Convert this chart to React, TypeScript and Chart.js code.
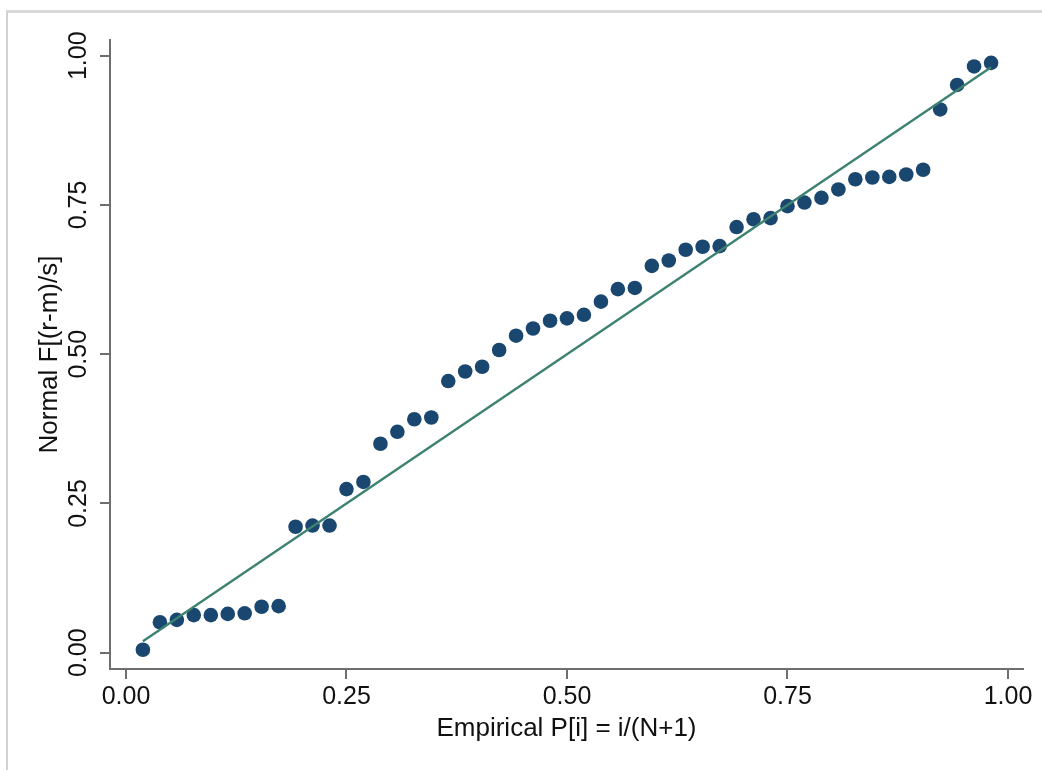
import React, { useEffect, useRef } from "react";
import { Chart, registerables } from "chart.js";

Chart.register(...registerables);

// Empirical P[i] = i/(N+1), N = 51
const empiricalP = [
  0.0192, 0.0385, 0.0577, 0.0769, 0.0962, 0.1154, 0.1346, 0.1538, 0.1731, 0.1923,
  0.2115, 0.2308, 0.25, 0.2692, 0.2885, 0.3077, 0.3269, 0.3462, 0.3654, 0.3846,
  0.4038, 0.4231, 0.4423, 0.4615, 0.4808, 0.5, 0.5192, 0.5385, 0.5577, 0.5769,
  0.5962, 0.6154, 0.6346, 0.6538, 0.6731, 0.6923, 0.7115, 0.7308, 0.75, 0.7692,
  0.7885, 0.8077, 0.8269, 0.8462, 0.8654, 0.8846, 0.9038, 0.9231, 0.9423, 0.9615,
  0.9808,
];

// Normal F[(r-m)/s]
const normalF = [
  0.005, 0.051, 0.055, 0.063, 0.063, 0.065, 0.066, 0.077, 0.078, 0.211,
  0.213, 0.213, 0.274, 0.286, 0.35, 0.37, 0.391, 0.394, 0.455, 0.471,
  0.479, 0.507, 0.531, 0.543, 0.556, 0.56, 0.566, 0.588, 0.609, 0.611,
  0.648, 0.657, 0.675, 0.68, 0.681, 0.713, 0.726, 0.728, 0.748, 0.754,
  0.762, 0.776, 0.793, 0.796, 0.797, 0.801, 0.809, 0.91, 0.951, 0.982,
  0.988,
];

// reference line (45-degree)
const refLineX = [0.0192, 0.9808];
const refLineY = [0.0192, 0.9808];

const tickValues = [0, 0.25, 0.5, 0.75, 1];

const xTitle = "Empirical P[i] = i/(N+1)";
const yTitle = "Normal F[(r-m)/s]";

const FONT = "'Liberation Sans', Arial, Helvetica, sans-serif";
const AXIS_GRAY = "#6e6e6e";

export default function App() {
  const canvasRef = useRef<HTMLCanvasElement | null>(null);

  useEffect(() => {
    const canvas = canvasRef.current;
    if (!canvas) return;

    const points = empiricalP.map((x, i) => ({ x, y: normalF[i] }));
    const linePts = refLineX.map((x, i) => ({ x, y: refLineY[i] }));

    const chart = new Chart(canvas, {
      type: "scatter",
      data: {
        datasets: [
          {
            type: "line",
            data: linePts,
            borderColor: "#3d8270",
            borderWidth: 2.4,
            pointRadius: 0,
            showLine: true,
            fill: false,
            order: 0,
          } as any,
          {
            type: "scatter",
            data: points,
            backgroundColor: "#1a476f",
            borderWidth: 0,
            pointRadius: 7.3,
            pointHoverRadius: 7.3,
            order: 1,
          },
        ],
      },
      options: {
        animation: false,
        responsive: false,
        devicePixelRatio: 1,
        events: [],
        layout: { padding: { left: 0, right: 19, top: 40, bottom: 0 } },
        plugins: {
          legend: { display: false },
          tooltip: { enabled: false },
        },
        scales: {
          x: {
            type: "linear",
            min: -0.0181,
            max: 1.017,
            afterBuildTicks: (s: any) => {
              s.ticks = tickValues.map((v) => ({ value: v }));
            },
            afterFit: (s: any) => {
              s.height = 101;
              s.paddingLeft = 0;
              s.paddingRight = 0;
            },
            border: { display: true, color: AXIS_GRAY, width: 2 },
            grid: {
              drawOnChartArea: false,
              drawTicks: true,
              tickLength: 10,
              color: AXIS_GRAY,
              lineWidth: 2,
            },
            ticks: {
              color: "#111",
              font: { family: FONT, size: 25 },
              padding: 3,
              maxRotation: 0,
              minRotation: 0,
              callback: (v: any) => Number(v).toFixed(2),
            },
            title: {
              display: true,
              text: xTitle,
              color: "#111",
              font: { family: FONT, size: 26 },
              padding: { top: 0, bottom: 26 },
            },
          },
          y: {
            type: "linear",
            min: -0.0273,
            max: 1.0263,
            afterBuildTicks: (s: any) => {
              s.ticks = tickValues.map((v) => ({ value: v }));
            },
            afterFit: (s: any) => {
              s.width = 110;
              s.paddingTop = 0;
              s.paddingBottom = 0;
            },
            border: { display: true, color: AXIS_GRAY, width: 2 },
            grid: {
              drawOnChartArea: false,
              drawTicks: true,
              tickLength: 10,
              color: AXIS_GRAY,
              lineWidth: 2,
            },
            ticks: {
              color: "#111",
              font: { family: FONT, size: 25 },
              padding: -3,
              minRotation: 90,
              maxRotation: 90,
              crossAlign: "center",
              callback: (v: any) => Number(v).toFixed(2),
            },
            title: {
              display: true,
              text: yTitle,
              color: "#111",
              font: { family: FONT, size: 26 },
              padding: { top: 34, bottom: 0 },
            },
          },
        },
      },
    });

    return () => {
      chart.destroy();
    };
  }, []);

  return (
    <div
      style={{
        position: "fixed",
        left: 0,
        top: 0,
        width: 1042,
        height: 770,
        background: "#ffffff",
        overflow: "hidden",
      }}
    >
      <div
        style={{
          position: "absolute",
          left: 6,
          top: 10,
          right: 0,
          bottom: 0,
          borderTop: "3px solid #d9d9d9",
          borderLeft: "2px solid #d2d2d2",
        }}
      />
      <canvas
        ref={canvasRef}
        width={1042}
        height={770}
        style={{ position: "absolute", left: 0, top: 0, width: 1042, height: 770 }}
      />
    </div>
  );
}
